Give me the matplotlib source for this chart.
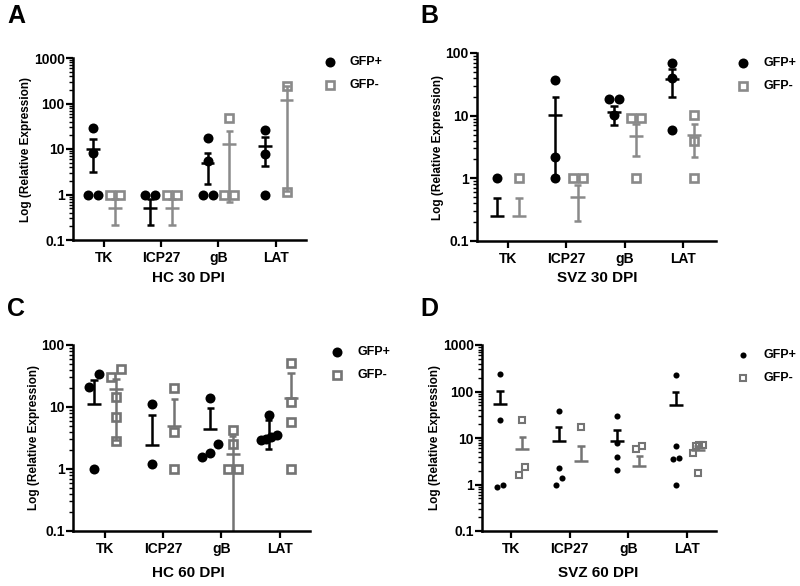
import numpy as np
import matplotlib.pyplot as plt
from matplotlib.lines import Line2D
from matplotlib.ticker import LogLocator, FixedLocator, FixedFormatter, NullFormatter

plt.rcParams['font.family'] = ['Liberation Sans', 'DejaVu Sans']
plt.rcParams['font.weight'] = 'bold'

genes = ["TK", "ICP27", "gB", "LAT"]

# --- A: HC 30 DPI ---
a_pos_pts = [[28.6, 8.2, 1, 1], [1, 1], [17.3, 5.4, 1, 1], [26.3, 7.8, 1]]
a_pos_mean = [9.8, 0.5, 5.0, 11.6]
a_pos_lo = [3.16, 0.21, 1.7, 4.2]
a_pos_hi = [16.5, 0.79, 8.2, 18.8]
a_neg_pts = [[1, 1], [1, 1], [47, 1, 1], [238, 1.14]]
a_neg_mean = [0.5, 0.5, 12.6, 122]
a_neg_lo = [0.21, 0.21, 0.67, 1.2]
a_neg_hi = [0.79, 0.79, 24.7, 238]

# --- B: SVZ 30 DPI ---
b_pos_pts = [[1], [36.8, 2.19, 1], [18.3, 18.3, 10.2], [68.9, 39.6, 5.85]]
b_pos_mean = [0.25, 10.2, 11.5, 38.2]
b_pos_lo = [0.25, 1.1, 7.1, 20]
b_pos_hi = [0.49, 19.5, 14.5, 55]
b_neg_pts = [[1], [1, 1], [9.1, 9.1, 1], [10.3, 3.9, 1]]
b_neg_mean = [0.25, 0.5, 4.8, 4.9]
b_neg_lo = [0.25, 0.21, 2.28, 2.2]
b_neg_hi = [0.49, 0.79, 7.3, 7.3]

# --- C: HC 60 DPI ---
c_pos_pts = [[34.5, 21, 1], [11, 1.19], [13.8, 2.56, 1.83, 1.56], [7.4, 3.5, 3.3, 3.1, 2.9]]
c_pos_mean = [11.3, 2.44, 4.5, 3.3]
c_pos_lo = [11.3, 2.44, 4.5, 2.07]
c_pos_hi = [27, 7.3, 9.5, 6.1]
c_neg_pts = [[40.5, 30.5, 14.5, 7.0, 2.83], [20, 4.0, 1], [4.26, 2.5, 1, 1], [51.9, 12.2, 5.7, 1]]
c_neg_mean = [19.3, 4.9, 1.72, 13.8]
c_neg_lo = [2.9, 4.9, 0.01, 13.8]
c_neg_hi = [27.9, 13.5, 3.4, 35.8]

# --- D: SVZ 60 DPI ---
d_pos_pts = [[240, 23.8, 0.89, 1.0], [39, 2.32, 1.0, 1.35], [29.4, 7.9, 3.94, 2.03], [232, 6.7, 3.74, 3.45, 1.0]]
d_pos_mean = [52.6, 8.8, 8.8, 50]
d_pos_lo = [52.6, 8.8, 8.8, 50]
d_pos_hi = [101.6, 17.1, 14.5, 97]
d_neg_pts = [[24.2, 1.64, 2.4], [17.1], [5.9, 6.7], [7.0, 7.0, 6.7, 4.8, 1.78]]
d_neg_mean = [5.66, 3.28, 2.48, 5.4]
d_neg_lo = [5.66, 3.28, 2.48, 5.4]
d_neg_hi = [10.4, 6.7, 4.07, 6.6]

W, H = 800, 586
fig = plt.figure(figsize=(W / 100, H / 100), dpi=100)


def px_axes(left, top, right, bottom):
    return fig.add_axes([left / W, 1 - bottom / H, (right - left) / W, (bottom - top) / H])


def spread(ax, vals, d_px):
    """Horizontal offsets (data units) so near-equal values sit side by side."""
    vals = np.asarray(vals, float)
    ypx = ax.transData.transform(np.column_stack([np.zeros(len(vals)), vals]))[:, 1]
    ppu = ax.transData.transform((1, 1))[0] - ax.transData.transform((0, 1))[0]
    order = np.argsort(vals)
    offs = np.zeros(len(vals))
    groups = []
    for i in order:
        if groups and abs(ypx[groups[-1][-1]] - ypx[i]) < 1.4 * d_px:
            groups[-1].append(i)
        else:
            groups.append([i])
    for g in groups:
        n = len(g)
        if n > 1:
            step = min(d_px, 1.6 * d_px / (n - 1))
            for k, i in enumerate(g):
                offs[i] = (k - (n - 1) / 2) * step
    return offs / ppu


def draw_panel(ax, pos, neg, ymax, xlim, gray, big=True):
    ax.set_yscale("log")
    ax.set_ylim(0.1, ymax)
    ax.set_xlim(*xlim)
    d_px = 10 if big else 6
    ms_c = 7.2 if big else 4.4
    ms_s = 5.6 if big else 3.9
    mew = 1.9 if big else 1.5
    for grp, dx, col in ((pos, -0.19, "black"), (neg, 0.19, gray)):
        pts, mean, lo, hi = grp
        for i in range(len(genes)):
            x = i + dx
            # error bars
            ax.vlines(x, lo[i], hi[i], color=col, lw=1.8, zorder=2)
            ax.hlines(hi[i], x - 0.065, x + 0.065, color=col, lw=1.8, zorder=2)
            if lo[i] < mean[i]:
                ax.hlines(lo[i], x - 0.065, x + 0.065, color=col, lw=1.8, zorder=2)
            ax.hlines(mean[i], x - 0.12, x + 0.12, color=col, lw=1.8, zorder=2)
            offs = spread(ax, pts[i], d_px)
            xs = x + offs
            if col == "black":
                ax.plot(xs, pts[i], "o", color="black", ms=ms_c, mew=0, zorder=3, clip_on=False)
            else:
                ax.plot(xs, pts[i], "s", mfc="none", mec=gray, ms=ms_s, mew=mew, zorder=3, clip_on=False)

    ax.set_xticks(range(len(genes)))
    ax.set_xticklabels(genes, fontsize=10, fontweight="bold")
    decades = [10.0 ** k for k in range(-1, int(np.log10(ymax)) + 1)]
    ax.yaxis.set_major_locator(FixedLocator(decades))
    ax.yaxis.set_major_formatter(FixedFormatter(["0.1" if v < 1 else str(int(v)) for v in decades]))
    ax.yaxis.set_minor_locator(LogLocator(base=10, subs=np.arange(2, 10)))
    ax.yaxis.set_minor_formatter(NullFormatter())
    for lab in ax.get_yticklabels():
        lab.set_fontsize(10)
        lab.set_fontweight("bold")
    ax.tick_params(axis="both", which="major", direction="out", length=5, width=1.6, pad=1, color="black")
    ax.tick_params(axis="x", which="major", pad=3)
    ax.tick_params(axis="y", which="minor", direction="out", length=3, width=1.0)
    ax.tick_params(axis="x", which="minor", length=0)
    for s in ("top", "right"):
        ax.spines[s].set_visible(False)
    for s in ("left", "bottom"):
        ax.spines[s].set_linewidth(1.8)
    ax.set_ylabel("Log (Relative Expression)", fontsize=8.5, fontweight="bold", labelpad=1)


def legend(x, y, gray, big=True):
    ms_c = 7.2 if big else 4.4
    ms_s = 5.6 if big else 3.9
    mew = 1.9 if big else 1.5
    fy = 1 - y / H
    fig.add_artist(Line2D([x / W], [fy], transform=fig.transFigure, marker="o",
                          color="black", ms=ms_c, mew=0, ls="none"))
    fy2 = 1 - (y + 23) / H
    fig.add_artist(Line2D([x / W], [fy2], transform=fig.transFigure, marker="s",
                          mfc="none", mec=gray, ms=ms_s, mew=mew, ls="none"))
    fig.text((x + 20) / W, fy, "GFP+", fontsize=9, fontweight="bold", va="center", ha="left")
    fig.text((x + 20) / W, fy2, "GFP-", fontsize=9, fontweight="bold", va="center", ha="left")


gray_top = "#8a8a8a"
gray_bot = "#747474"

axA = px_axes(73, 58, 306, 240)
draw_panel(axA, (a_pos_pts, a_pos_mean, a_pos_lo, a_pos_hi),
           (a_neg_pts, a_neg_mean, a_neg_lo, a_neg_hi), 1000, (-0.54, 3.53), gray_top)
axB = px_axes(477, 53, 716, 241)
draw_panel(axB, (b_pos_pts, b_pos_mean, b_pos_lo, b_pos_hi),
           (b_neg_pts, b_neg_mean, b_neg_lo, b_neg_hi), 100, (-0.53, 3.56), gray_top)
axC = px_axes(73, 345, 310, 531)
draw_panel(axC, (c_pos_pts, c_pos_mean, c_pos_lo, c_pos_hi),
           (c_neg_pts, c_neg_mean, c_neg_lo, c_neg_hi), 100, (-0.55, 3.52), gray_bot)
axD = px_axes(482, 345, 716, 531)
draw_panel(axD, (d_pos_pts, d_pos_mean, d_pos_lo, d_pos_hi),
           (d_neg_pts, d_neg_mean, d_neg_lo, d_neg_hi), 1000, (-0.5, 3.5), gray_bot, big=False)

legend(330, 62, gray_top)
legend(743, 63, gray_top)
legend(337, 352, gray_bot)
legend(743, 355, gray_bot, big=False)

for x, y, t in ((188, 278, "HC 30 DPI"), (597, 278, "SVZ 30 DPI"),
                (188, 573, "HC 60 DPI"), (598, 573, "SVZ 60 DPI")):
    fig.text(x / W, 1 - y / H, t, fontsize=11, fontweight="bold", ha="center", va="center")

for x, y, t in ((16, 16, "A"), (429, 16, "B"), (16, 309, "C"), (429, 309, "D")):
    fig.text(x / W, 1 - y / H, t, fontsize=18, fontweight="bold", ha="center", va="center")

fig.savefig("out.png", dpi=100, facecolor="white")
